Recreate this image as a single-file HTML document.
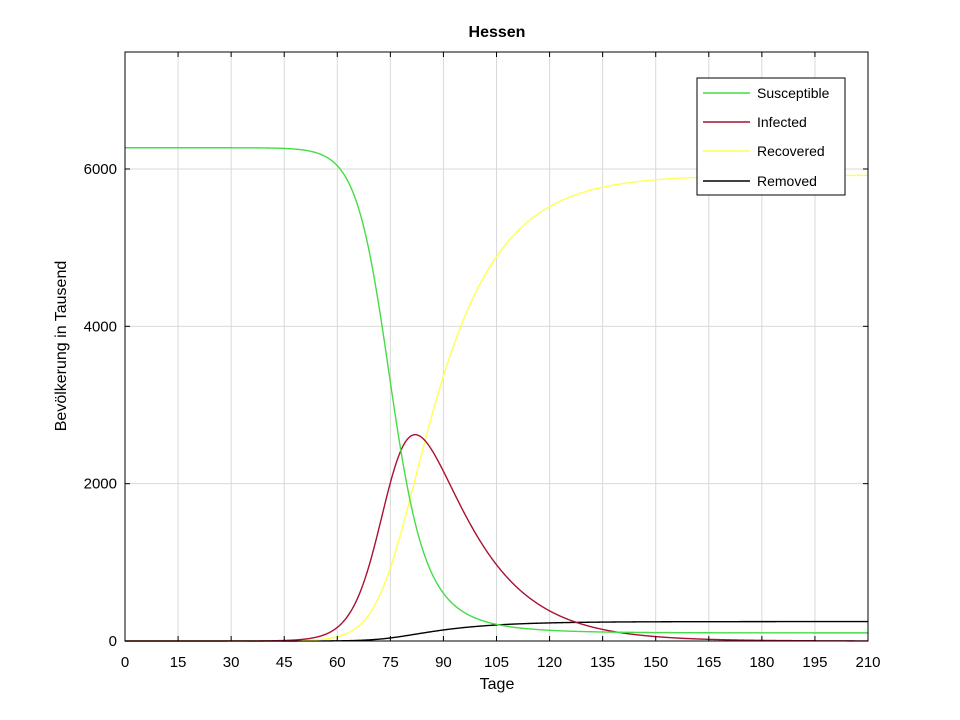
<!DOCTYPE html>
<html><head><meta charset="utf-8"><style>
body{margin:0;background:#fff;}
svg{display:block;font-family:"Liberation Sans",sans-serif;}
</style></head><body>
<svg id="s" width="960" height="720" xmlns="http://www.w3.org/2000/svg">
<rect width="960" height="720" fill="#fff"/>
<g id="grid" stroke="#d9d9d9" stroke-width="1"></g>
<g id="curves" fill="none" stroke-width="1.4"></g>
<rect x="125" y="52" width="743" height="589" fill="none" stroke="#000" stroke-width="1"/>
<g id="ticks" stroke="#000" stroke-width="1"></g>
<g id="labels" font-size="15" fill="#000"></g>
<text x="497" y="37" font-size="16" font-weight="bold" text-anchor="middle">Hessen</text>
<text x="497" y="689" font-size="16" text-anchor="middle">Tage</text>
<text transform="translate(66,346) rotate(-90)" font-size="16" text-anchor="middle">Bevölkerung in Tausend</text>
<g>
<rect x="697" y="78" width="148" height="117" fill="#fff" stroke="#000" stroke-width="1"/>
<line x1="703" x2="750" y1="93" y2="93" stroke="#44dd44" stroke-width="1.4"/>
<line x1="703" x2="750" y1="122" y2="122" stroke="#aa1133" stroke-width="1.4"/>
<line x1="703" x2="750" y1="151" y2="151" stroke="#ffff55" stroke-width="1.4"/>
<line x1="703" x2="750" y1="181" y2="181" stroke="#000" stroke-width="1.4"/>
<text x="757" y="98" font-size="14">Susceptible</text>
<text x="757" y="127" font-size="14">Infected</text>
<text x="757" y="156" font-size="14">Recovered</text>
<text x="757" y="186" font-size="14">Removed</text>
</g>
</svg>
<script>
var NS="http://www.w3.org/2000/svg";
function el(p,t,a,txt){var e=document.createElementNS(NS,t);for(var k in a)e.setAttribute(k,a[k]);if(txt!==undefined)e.textContent=txt;document.getElementById(p).appendChild(e);return e;}
var X0=125,X1=868,Y0=641,ky=0.07867;
function px(d){return X0+(X1-X0)*d/210;}
function py(v){return Y0-v*ky;}
for(var d=0;d<=210;d+=15){var x=px(d);
 if(d>0&&d<210)el("grid","line",{x1:x,x2:x,y1:52,y2:641});
 el("ticks","line",{x1:x,x2:x,y1:641,y2:636});el("ticks","line",{x1:x,x2:x,y1:52,y2:57});
 el("labels","text",{x:x,y:667,"text-anchor":"middle"},d);}
for(var v=0;v<=6000;v+=2000){var y=py(v);
 if(v>0)el("grid","line",{x1:125,x2:868,y1:y,y2:y});
 el("ticks","line",{x1:125,x2:130,y1:y,y2:y});el("ticks","line",{x1:863,x2:868,y1:y,y2:y});
 el("labels","text",{x:117,y:y+5,"text-anchor":"end"},v);}
var N=6270,beta=0.29,gam=0.0695,fd=0.04,dt=0.02;
function sim(I0,rec){var S=N-I0,I=I0,R=0,D=0,out=[],peakT=0,pk=0;
 for(var i=0;i<=210/dt;i++){var t=i*dt;
  if(rec&&i%10==0)out.push([t,S,I,R,D]);
  if(I>pk){pk=I;peakT=t;}
  var inf=beta*S*I/N,rem=gam*I;S-=inf*dt;I+=(inf-rem)*dt;R+=rem*(1-fd)*dt;D+=rem*fd*dt;}
 return rec?out:peakT;}
var lo=-25,hi=0;
for(var k=0;k<50;k++){var m=(lo+hi)/2;var p=sim(Math.exp(m),false);if(p>82)lo=m;else hi=m;}
var data=sim(Math.exp((lo+hi)/2),true);
var cols=["#44dd44","#aa1133","#ffff55","#000"];
var order=[3,2,1,0];
order.forEach(function(j){var s="";data.forEach(function(r,i){s+=(i?"L":"M")+px(r[0]).toFixed(2)+" "+py(r[j+1]).toFixed(2);});
 el("curves","path",{d:s,stroke:cols[j]});});
</script>
</body></html>
